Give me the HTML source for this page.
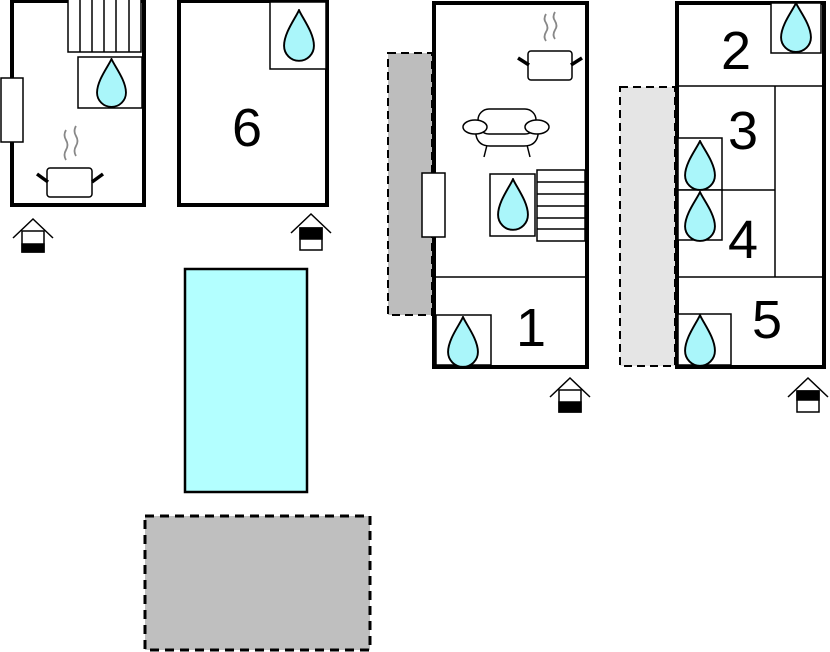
<!DOCTYPE html><html><head><meta charset="utf-8"><style>body{margin:0;background:#fff}svg{display:block}text{font-family:"Liberation Sans",sans-serif;fill:#000}</style></head><body>
<svg width="830" height="652" viewBox="0 0 830 652" xmlns="http://www.w3.org/2000/svg">
<defs>
<symbol id="d" viewBox="0 0 30 50" preserveAspectRatio="none"><path d="M15,1 C12,8 1,22 1,34 A14,14 0 0 0 29,34 C29,22 18,8 15,1Z" fill="#aaf6fa" stroke="#000" stroke-width="1.8"/></symbol>
</defs>
<rect x="388" y="53" width="44" height="262" fill="#bdbdbd" stroke="#000" stroke-width="2" stroke-dasharray="8,5"/>
<rect x="620" y="87" width="55" height="279" fill="#e5e5e5" stroke="#000" stroke-width="2" stroke-dasharray="8,5"/>
<rect x="145" y="516" width="225" height="134" fill="#bfbfbf" stroke="#000" stroke-width="3" stroke-dasharray="9,6"/>
<rect x="185" y="269" width="122" height="223" fill="#b3ffff" stroke="#000" stroke-width="2.5"/>

<rect x="12" y="1" width="132" height="204" fill="#fff" stroke="#000" stroke-width="4"/>
<rect x="68" y="-2" width="73" height="54" fill="#fff" stroke="#000" stroke-width="1.5"/>
<g stroke="#000" stroke-width="1.5"><line x1="80" y1="0" x2="80" y2="52"/><line x1="92" y1="0" x2="92" y2="52"/><line x1="104" y1="0" x2="104" y2="52"/><line x1="116" y1="0" x2="116" y2="52"/><line x1="129" y1="0" x2="129" y2="52"/></g>
<rect x="78" y="57" width="64" height="51" fill="#fff" stroke="#000" stroke-width="1.5"/>
<use href="#d" x="96" y="58" width="31" height="51"/>
<rect x="1" y="78" width="22" height="64" fill="#fff" stroke="#000" stroke-width="1.5"/>
<g fill="none" stroke="#888" stroke-width="1.8"><path d="M66,130 q-3,5 0,10 q3,5 0,10 q-3,5 0,10"/><path d="M76,126 q-3,5 0,10 q3,5 0,10 q-3,5 0,10"/></g>
<rect x="47" y="168" width="45" height="29" rx="3" fill="#fff" stroke="#000" stroke-width="1.5"/>
<g stroke="#000" stroke-width="3.5"><line x1="37" y1="174" x2="48" y2="182"/><line x1="92" y1="182" x2="103" y2="174"/></g>

<rect x="179" y="1" width="148" height="204" fill="#fff" stroke="#000" stroke-width="4"/>
<rect x="270" y="2" width="56" height="67" fill="#fff" stroke="#000" stroke-width="1.5"/>
<use href="#d" x="283" y="9" width="32" height="54"/>
<text x="247" y="146" font-size="54" text-anchor="middle">6</text>

<rect x="434" y="3" width="153" height="364" fill="#fff" stroke="#000" stroke-width="4"/>
<g fill="none" stroke="#888" stroke-width="1.8"><path d="M546,14 q-3,5 0,9 q3,5 0,9 q-3,5 0,9"/><path d="M555,12 q-3,5 0,9 q3,5 0,9 q-3,5 0,9"/></g>
<rect x="528" y="51" width="44" height="29" rx="3" fill="#fff" stroke="#000" stroke-width="1.5"/>
<g stroke="#000" stroke-width="3.5"><line x1="518" y1="58" x2="529" y2="65"/><line x1="571" y1="65" x2="582" y2="58"/></g>
<g fill="#fff" stroke="#000" stroke-width="1.5">
<line x1="487" y1="145" x2="484" y2="157"/><line x1="527" y1="145" x2="530" y2="157"/>
<path d="M476,128 L476,135 Q478,146 490,146 L524,146 Q536,146 538,135 L538,128 Z"/>
<rect x="478" y="109" width="58" height="25" rx="11"/>
<ellipse cx="475" cy="127" rx="12" ry="7"/><ellipse cx="537" cy="127" rx="12" ry="7"/>
</g>
<rect x="422" y="173" width="23" height="64" fill="#fff" stroke="#000" stroke-width="1.5"/>
<rect x="490" y="174" width="45" height="62" fill="#fff" stroke="#000" stroke-width="1.5"/>
<use href="#d" x="497" y="178" width="32" height="54"/>
<rect x="537" y="170" width="48" height="71" fill="#fff" stroke="#000" stroke-width="1.5"/>
<g stroke="#000" stroke-width="1.5"><line x1="537" y1="182" x2="585" y2="182"/><line x1="537" y1="194" x2="585" y2="194"/><line x1="537" y1="206" x2="585" y2="206"/><line x1="537" y1="218" x2="585" y2="218"/><line x1="537" y1="229" x2="585" y2="229"/></g>
<line x1="434" y1="277" x2="586" y2="277" stroke="#000" stroke-width="1.5"/>
<rect x="436" y="315" width="55" height="50" fill="#fff" stroke="#000" stroke-width="1.5"/>
<use href="#d" x="447" y="316" width="32" height="53"/>
<text x="531" y="346" font-size="54" text-anchor="middle">1</text>

<rect x="677" y="3" width="147" height="364" fill="#fff" stroke="#000" stroke-width="4"/>
<rect x="771" y="3" width="50" height="50" fill="#fff" stroke="#000" stroke-width="1.5"/>
<use href="#d" x="780" y="2" width="32" height="52"/>
<text x="736" y="69" font-size="54" text-anchor="middle">2</text>
<g stroke="#000" stroke-width="1.5">
<line x1="678" y1="86" x2="822" y2="86"/>
<line x1="775" y1="86" x2="775" y2="277"/>
<line x1="678" y1="190" x2="775" y2="190"/>
<line x1="678" y1="277" x2="822" y2="277"/>
</g>
<rect x="678" y="138" width="44" height="52" fill="#fff" stroke="#000" stroke-width="1.5"/>
<rect x="678" y="190" width="44" height="50" fill="#fff" stroke="#000" stroke-width="1.5"/>
<use href="#d" x="684" y="140" width="32" height="52"/>
<use href="#d" x="684" y="191" width="32" height="52"/>
<text x="743" y="149" font-size="54" text-anchor="middle">3</text>
<text x="743" y="258" font-size="54" text-anchor="middle">4</text>
<rect x="678" y="314" width="53" height="51" fill="#fff" stroke="#000" stroke-width="1.5"/>
<use href="#d" x="684" y="314" width="32" height="54"/>
<text x="767" y="338" font-size="54" text-anchor="middle">5</text>

<g stroke="#000" stroke-width="1.5" fill="#fff">
<polyline points="13,238 33,219 53,238" fill="none"/>
<rect x="22" y="231" width="22" height="21"/><rect x="22" y="244" width="22" height="8" fill="#000"/>
<polyline points="291,233 311,214 331,233" fill="none"/>
<rect x="300" y="228" width="22" height="22"/><rect x="300" y="228" width="22" height="11" fill="#000"/>
<polyline points="550,397 570,378 590,397" fill="none"/>
<rect x="559" y="390" width="22" height="22"/><rect x="559" y="402" width="22" height="10" fill="#000"/>
<polyline points="788,397 808,378 828,397" fill="none"/>
<rect x="797" y="391" width="22" height="21"/><rect x="797" y="391" width="22" height="9" fill="#000"/>
</g>
</svg>
</body></html>
